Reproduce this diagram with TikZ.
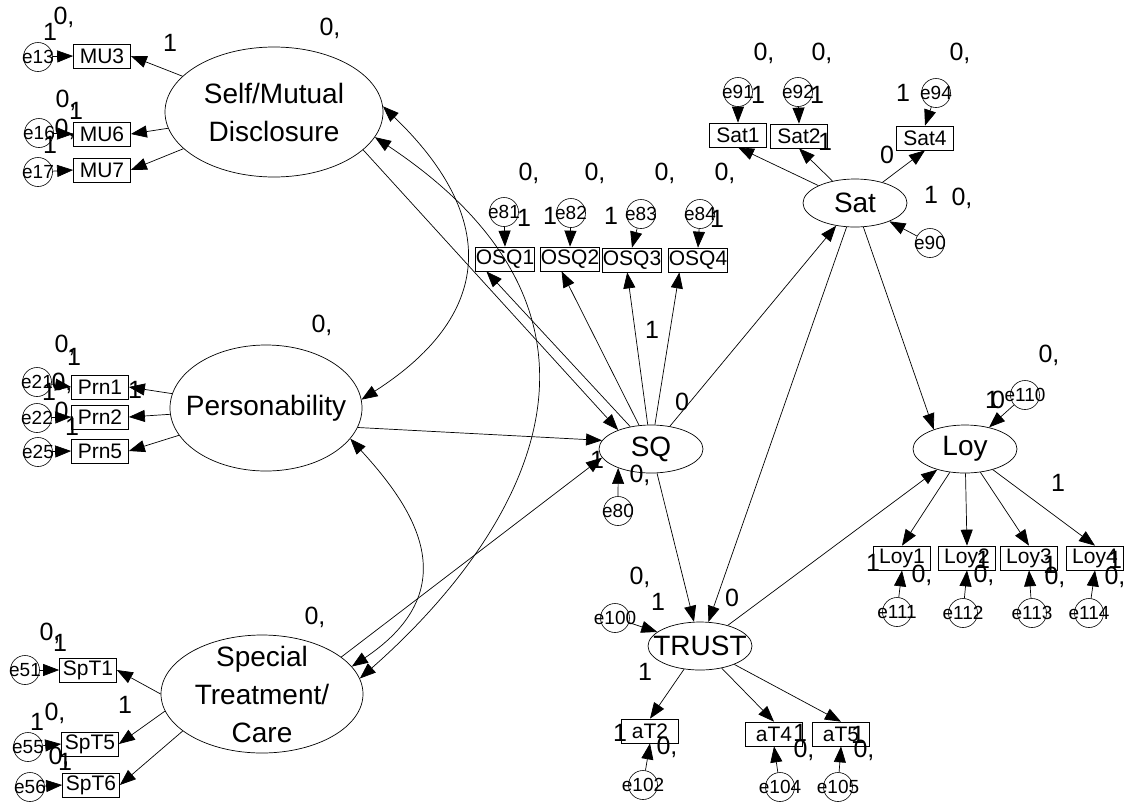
\documentclass[tikz,border=0pt]{standalone}
\usepackage{fontspec}
\setmainfont{Liberation Sans}
\usetikzlibrary{arrows.meta,calc,shapes.geometric}
\newcommand{\latfont}{\fontsize{28}{38}\selectfont}
\newcommand{\obsfont}{\fontsize{21}{23}\selectfont}
\newcommand{\errfont}{\fontsize{19}{21}\selectfont}
\newcommand{\estfont}{\fontsize{25}{27}\selectfont}
\newcommand{\ename}[1]{\makebox[0pt]{#1}}
\tikzset{
  latent/.style={ellipse, draw, line width=0.7pt, inner sep=-16pt, align=center,
                 font=\latfont},
  construct/.style={latent, minimum width=104pt, minimum height=48pt},
  obs/.style={draw, line width=0.7pt, minimum width=57pt, minimum height=24pt,
              inner sep=0.5pt, font=\obsfont},
  % error terms: the name is set over the circle, as AMOS prints it
  err/.style={circle, draw, line width=0.6pt, minimum size=29pt, inner sep=0pt,
              font=\errfont},
  est/.style={inner sep=0pt, font=\estfont},
  reg/.style={draw, line width=0.7pt, -{Triangle[length=16pt,width=12pt]}},
  cov/.style={draw, line width=0.7pt,
              {Triangle[length=16pt,width=12pt]}-{Triangle[length=16pt,width=12pt]}},
}

\begin{document}
\begin{tikzpicture}[x=1pt, y=-1pt]
  \useasboundingbox (0,0) rectangle (1131,804);

  % --- latent variables ----------------------------------------------------
  \node[latent, minimum width=218pt, minimum height=130pt] (smd) at (274,112) {Self/Mutual\\Disclosure};
  \node[latent, minimum width=192pt, minimum height=126pt] (prs) at (266,408) {Personability};
  \node[latent, minimum width=202pt, minimum height=118pt] (spt) at (262,694) {Special\\Treatment/\\Care};
  \node[construct] (sq)    at (651,449) {SQ};
  \node[construct] (sat)   at (855,203) {Sat};
  \node[construct] (trust) at (700,646) {TRUST};
  \node[construct] (loy)   at (965,449) {Loy};

  % --- indicators ----------------------------------------------------------
  \node[obs] (mu3)  at (102,56)  {MU3};
  \node[obs] (mu6)  at (102,134) {MU6};
  \node[obs] (mu7)  at (102,170) {MU7};
  \node[obs] (prn1) at (100,387) {Prn1};
  \node[obs] (prn2) at (100,417) {Prn2};
  \node[obs] (prn5) at (100,451) {Prn5};
  \node[obs] (spt1) at (88,670)  {SpT1};
  \node[obs] (spt5) at (90,744)  {SpT5};
  \node[obs] (spt6) at (91,785)  {SpT6};
  \node[obs] (osq1) at (505,259) {OSQ1};
  \node[obs] (osq2) at (570,259) {OSQ2};
  \node[obs] (osq3) at (632,260) {OSQ3};
  \node[obs] (osq4) at (698,260) {OSQ4};
  \node[obs] (sat1) at (738,135) {Sat1};
  \node[obs] (sat2) at (799,136) {Sat2};
  \node[obs] (sat4) at (925,138) {Sat4};
  \node[obs] (at2)  at (650,731) {aT2};
  \node[obs] (at4)  at (774,734) {aT4};
  \node[obs] (at5)  at (841,734) {aT5};
  \node[obs] (loy1) at (902,558) {Loy1};
  \node[obs] (loy2) at (967,558) {Loy2};
  \node[obs] (loy3) at (1029,558) {Loy3};
  \node[obs] (loy4) at (1095,558) {Loy4};

  % --- error terms ---------------------------------------------------------
  \node[err] (e13)  at (38,57)    {\ename{e13}};
  \node[err] (e16)  at (39,133)   {\ename{e16}};
  \node[err] (e17)  at (38,172)   {\ename{e17}};
  \node[err] (e21)  at (37,382)   {\ename{e21}};
  \node[err] (e22)  at (37,418)   {\ename{e22}};
  \node[err] (e25)  at (38,452)   {\ename{e25}};
  \node[err] (e51)  at (25,670)   {\ename{e51}};
  \node[err] (e55)  at (28,747)   {\ename{e55}};
  \node[err] (e56)  at (30,787)   {\ename{e56}};
  \node[err] (e81)  at (504,212)  {\ename{e81}};
  \node[err] (e82)  at (571,213)  {\ename{e82}};
  \node[err] (e83)  at (641,214)  {\ename{e83}};
  \node[err] (e84)  at (700,214)  {\ename{e84}};
  \node[err] (e91)  at (738,92)   {\ename{e91}};
  \node[err] (e92)  at (798,92)   {\ename{e92}};
  \node[err] (e94)  at (936,93)   {\ename{e94}};
  \node[err] (e90)  at (930,243)  {\ename{e90}};
  \node[err] (e80)  at (618,511)  {\ename{e80}};
  \node[err] (e100) at (615,618)  {\ename{e100}};
  \node[err] (e102) at (643,785)  {\ename{e102}};
  \node[err] (e104) at (780,787)  {\ename{e104}};
  \node[err] (e105) at (838,787)  {\ename{e105}};
  \node[err] (e110) at (1025,395) {\ename{e110}};
  \node[err] (e111) at (897,612)  {\ename{e111}};
  \node[err] (e112) at (963,613)  {\ename{e112}};
  \node[err] (e113) at (1032,613) {\ename{e113}};
  \node[err] (e114) at (1089,613) {\ename{e114}};

  % --- measurement paths ---------------------------------------------------
  \draw[reg] (smd) -- (mu3.east);
  \draw[reg] (smd) -- (mu6.east);
  \draw[reg] (smd) -- (mu7.east);
  \draw[reg] (e13) -- (mu3.west);
  \draw[reg] (e16) -- (mu6.west);
  \draw[reg] (e17) -- (mu7.west);
  \draw[reg] (prs) -- (prn1.east);
  \draw[reg] (prs) -- (prn2.east);
  \draw[reg] (prs) -- (prn5.east);
  \draw[reg] (e21) -- (prn1.west);
  \draw[reg] (e22) -- (prn2.west);
  \draw[reg] (e25) -- (prn5.west);
  \draw[reg] (spt.180) -- (spt1.east);
  \draw[reg] (spt.190) -- (spt5.east);
  \draw[reg] (spt.205) -- (spt6.east);
  \draw[reg] (e51) -- (spt1.west);
  \draw[reg] (e55) -- (spt5.west);
  \draw[reg] (e56) -- (spt6.west);
  \draw[reg] (sq) -- ($(osq1.south west)!.19!(osq1.south east)$);
  \draw[reg] (sq) -- ($(osq2.south west)!.36!(osq2.south east)$);
  \draw[reg] (sq) -- ($(osq3.south west)!.42!(osq3.south east)$);
  \draw[reg] (sq) -- ($(osq4.south west)!.19!(osq4.south east)$);
  \draw[reg] (e81) -- (osq1.north);
  \draw[reg] (e82) -- (osq2.north);
  \draw[reg] (e83) -- (osq3.north);
  \draw[reg] (e84) -- (osq4.north);
  \draw[reg] (sat) -- (sat1.south);
  \draw[reg] (sat) -- (sat2.south);
  \draw[reg] (sat) -- (sat4.south);
  \draw[reg] (e91) -- (sat1.north);
  \draw[reg] (e92) -- (sat2.north);
  \draw[reg] (e94) -- (sat4.north);
  \draw[reg] (trust) -- (at2.north);
  \draw[reg] (trust) -- (at4.north);
  \draw[reg] (trust) -- (at5.north);
  \draw[reg] (e102) -- (at2.south);
  \draw[reg] (e104) -- (at4.south);
  \draw[reg] (e105) -- (at5.south);
  \draw[reg] (loy) -- (loy1.north);
  \draw[reg] (loy) -- (loy2.north);
  \draw[reg] (loy) -- (loy3.north);
  \draw[reg] (loy) -- (loy4.north);
  \draw[reg] (e111) -- (loy1.south);
  \draw[reg] (e112) -- (loy2.south);
  \draw[reg] (e113) -- (loy3.south);
  \draw[reg] (e114) -- (loy4.south);

  % --- structural paths ----------------------------------------------------
  \draw[reg] (smd.-23) -- (sq.150);
  \draw[reg] (prs.-12) -- (sq.170);
  \draw[reg] (spt.25) -- (sq.190);
  \draw[reg] (e80) -- (sq.210);
  \draw[reg] (sq) -- (sat);
  \draw[reg] (sq) -- (trust);
  \draw[reg] (sat) -- (trust);
  \draw[reg] (sat) -- (loy.148);
  \draw[reg] (trust) -- (loy);
  \draw[reg] (e90) -- (sat);
  \draw[reg] (e100) -- (trust);
  \draw[reg] (e110) -- (loy);

  % covariances between the three exogenous factors
  \draw[cov] (smd.3) .. controls (493,212) and (500,311) .. (prs.5);
  \draw[cov] (smd.-14) .. controls (662,328) and (507,549) .. (spt.9);
  \draw[cov] (prs.-20) .. controls (408,502) and (472,586) .. (spt.17);

  % --- estimates -----------------------------------------------------------
  \node[est] (v13)  at (64,17)  {0,};
  \node[est] (w13)  at (50,32)  {1};
  \node[est] (lmu3) at (170,43) {1};
  \node[est] (vsmd) at (330,28) {0,};
  \node[est] (v16)  at (66,100) {0,};
  \node[est] (w16)  at (76,111) {1};
  \node[est] (v17)  at (65,129) {0,};
  \node[est] (w17)  at (50,145) {1};

  \node[est] (v21)   at (65,345)  {0,};
  \node[est] (w21)   at (74,357)  {1};
  \node[est] (v22)   at (62,383)  {0,};
  \node[est] (w22)   at (49,392)  {1};
  \node[est] (v25)   at (65,412)  {0,};
  \node[est] (w25)   at (72,427)  {1};
  \node[est] (lprn1) at (135,390) {1};
  \node[est] (vprs)  at (322,325) {0,};

  \node[est] (v51)   at (50,633)  {0,};
  \node[est] (w51)   at (60,643)  {1};
  \node[est] (lspt5) at (125,705) {1};
  \node[est] (v55)   at (55,713)  {0,};
  \node[est] (w55)   at (37,722)  {1};
  \node[est] (v56)   at (59,757)  {0,};
  \node[est] (w56)   at (65,762)  {1};
  \node[est] (vspt)  at (315,617) {0,};

  \node[est] (v81)   at (529,173) {0,};
  \node[est] (v82)   at (595,173) {0,};
  \node[est] (v83)   at (665,173) {0,};
  \node[est] (v84)   at (725,173) {0,};
  \node[est] (w81)   at (524,218) {1};
  \node[est] (w82)   at (550,216) {1};
  \node[est] (w83)   at (611,216) {1};
  \node[est] (w84)   at (717,219) {1};
  \node[est] (losq3) at (652,330) {1};

  \node[est] (v91)   at (764,53)  {0,};
  \node[est] (v92)   at (822,53)  {0,};
  \node[est] (v94)   at (960,53)  {0,};
  \node[est] (w91)   at (758,95)  {1};
  \node[est] (w92)   at (817,95)  {1};
  \node[est] (w94)   at (903,93)  {1};
  \node[est] (lsat2) at (825,142) {1};
  \node[est] (lsat4) at (887,155) {0};
  \node[est] (w90)   at (931,195) {1};
  \node[est] (v90)   at (962,198) {0,};

  \node[est] (lsat)  at (682,402) {0};
  \node[est] (v80)   at (640,475) {0,};
  \node[est] (w80)   at (597,460) {1};

  \node[est] (v100)   at (640,577) {0,};
  \node[est] (w100)   at (658,602) {1};
  \node[est] (ltrust) at (732,598) {0};
  \node[est] (lat2)   at (645,672) {1};
  \node[est] (w102)   at (620,733) {1};
  \node[est] (v102)   at (667,747) {0,};
  \node[est] (w104)   at (800,733) {1};
  \node[est] (v104)   at (804,750) {0,};
  \node[est] (w105)   at (858,735) {1};
  \node[est] (v105)   at (864,750) {0,};

  \node[est] (v110)  at (1049,355) {0,};
  \node[est] (w110)  at (992,400)  {1};
  \node[est] (lloy)  at (998,400)  {0};
  \node[est] (lloy4) at (1058,483) {1};
  \node[est] (w111)  at (873,563)  {1};
  \node[est] (v111)  at (922,575)  {0,};
  \node[est] (w112)  at (983,560)  {1};
  \node[est] (v112)  at (984,575)  {0,};
  \node[est] (w113)  at (1050,565) {1};
  \node[est] (v113)  at (1055,577) {0,};
  \node[est] (w114)  at (1115,560) {1};
  \node[est] (v114)  at (1115,577) {0,};

\end{tikzpicture}
\end{document}
